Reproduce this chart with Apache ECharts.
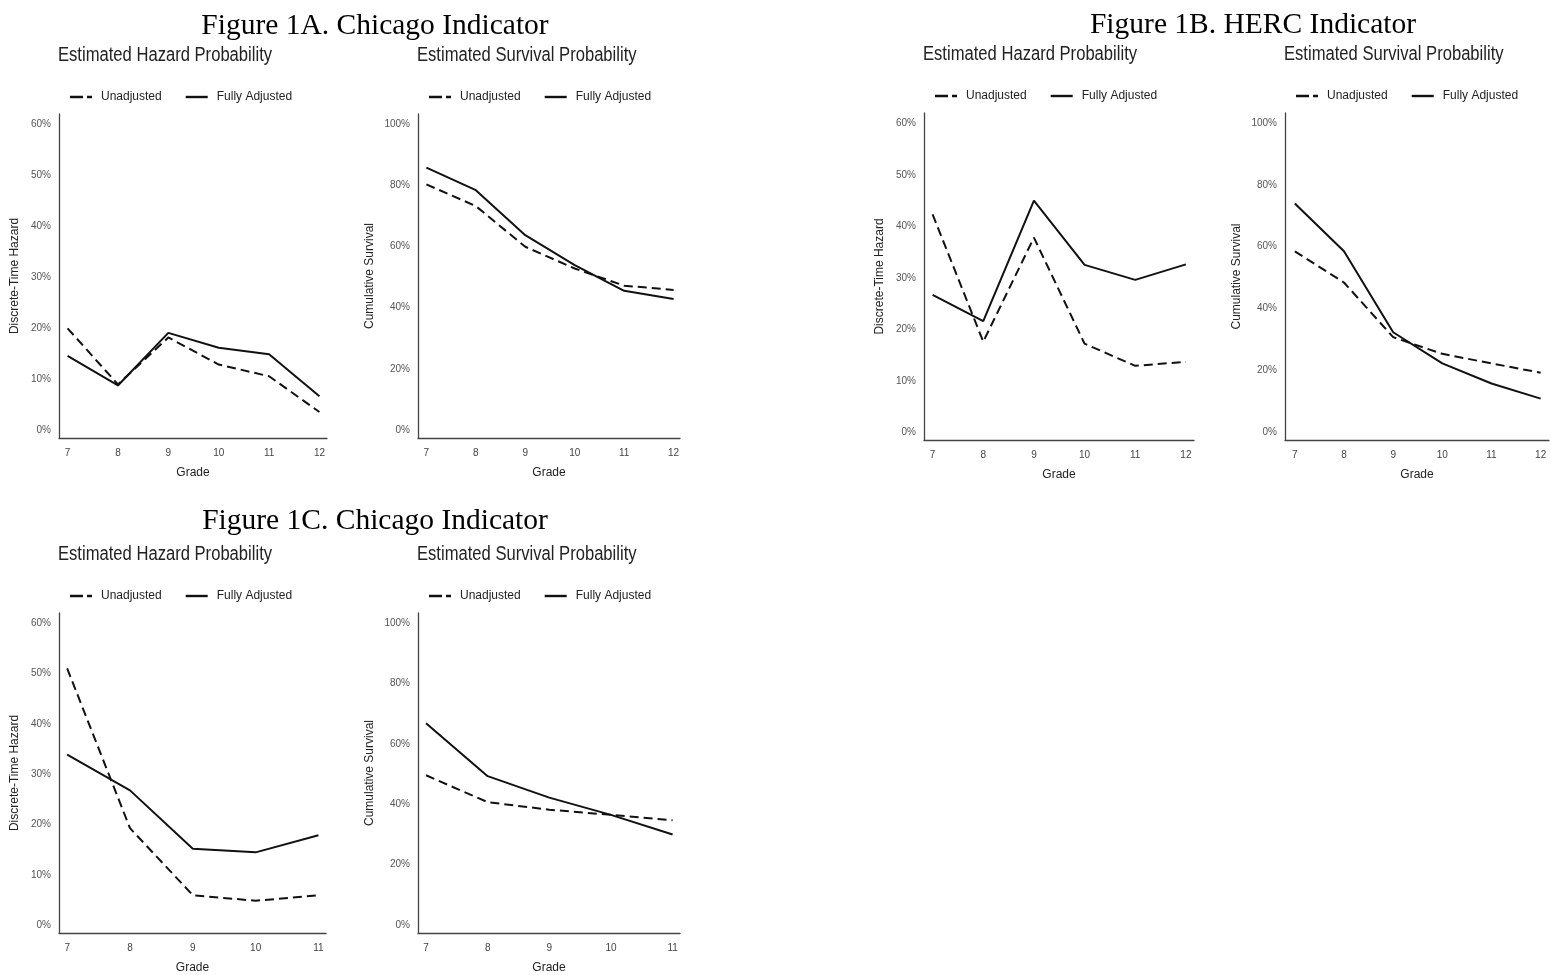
<!DOCTYPE html>
<html>
<head>
<meta charset="utf-8">
<script src="https://cdn.jsdelivr.net/npm/echarts@6/dist/echarts.min.js"></script>
<style>
html,body{margin:0;padding:0;background:#fff;}
#c{width:1551px;height:975px;}
</style>
</head>
<body>
<div id="c"></div>
<script>
// ---- data ----
var grades6 = [7, 8, 9, 10, 11, 12];
var grades5 = [7, 8, 9, 10, 11];
var seriesNames = ['Unadjusted', 'Fully Adjusted'];
var hazardTicks = [0, 0.1, 0.2, 0.3, 0.4, 0.5, 0.6];
var survivalTicks = [0, 0.2, 0.4, 0.6, 0.8, 1.0];

var hazA_unadj = [0.200, 0.090, 0.182, 0.129, 0.106, 0.036];
var hazA_full  = [0.146, 0.088, 0.191, 0.162, 0.149, 0.067];
var survA_unadj = [0.803, 0.732, 0.599, 0.528, 0.472, 0.458];
var survA_full  = [0.858, 0.784, 0.637, 0.539, 0.455, 0.428];

var hazB_unadj = [0.423, 0.176, 0.378, 0.172, 0.129, 0.137];
var hazB_full  = [0.267, 0.216, 0.450, 0.325, 0.296, 0.326];
var survB_unadj = [0.585, 0.484, 0.307, 0.253, 0.222, 0.192];
var survB_full  = [0.740, 0.585, 0.323, 0.222, 0.157, 0.108];

var hazC_unadj = [0.510, 0.193, 0.060, 0.049, 0.060];
var hazC_full  = [0.339, 0.268, 0.152, 0.145, 0.179];
var survC_unadj = [0.496, 0.407, 0.382, 0.365, 0.347];
var survC_full  = [0.668, 0.493, 0.422, 0.365, 0.300];

var figureTitles = ['Figure 1A. Chicago Indicator', 'Figure 1B. HERC Indicator', 'Figure 1C. Chicago Indicator'];
var panelTitles = ['Estimated Hazard Probability', 'Estimated Survival Probability'];
var hazardName = 'Discrete-Time Hazard';
var survivalName = 'Cumulative Survival';
var xName = 'Grade';

// ---- layout ----
var SANS = "'Liberation Sans Narrow','Arial Narrow','Liberation Sans',Arial,sans-serif";
var SERIF = "'Liberation Serif','Times New Roman',serif";
var DASH_ICON = 'path://M0,0H13V2.4H0Z M17,0H22V2.4H17Z';
var SOLID_ICON = 'path://M0,0H22V2.4H0Z';

var panels = [
  {left: 59,  top: 114, width: 268, height: 324, grades: grades6, xmin: 6.83, xmax: 12.15, kind: 'h', u: hazA_unadj, f: hazA_full, titleY: 55, legendY: 96},
  {left: 418, top: 114, width: 262, height: 324, grades: grades6, xmin: 6.83, xmax: 12.13, kind: 's', u: survA_unadj, f: survA_full, titleY: 55, legendY: 96},
  {left: 924, top: 113, width: 270, height: 327, grades: grades6, xmin: 6.83, xmax: 12.16, kind: 'h', u: hazB_unadj, f: hazB_full, titleY: 54, legendY: 95},
  {left: 1285, top: 113, width: 264, height: 327, grades: grades6, xmin: 6.80, xmax: 12.17, kind: 's', u: survB_unadj, f: survB_full, titleY: 54, legendY: 95},
  {left: 59,  top: 613, width: 267, height: 322, grades: grades5, xmin: 6.87, xmax: 11.12, kind: 'h', u: hazC_unadj, f: hazC_full, titleY: 554, legendY: 595},
  {left: 418, top: 613, width: 262, height: 323, grades: grades5, xmin: 6.87, xmax: 11.12, kind: 's', u: survC_unadj, f: survC_full, titleY: 554, legendY: 595}
];

var grids = [], xAxes = [], yAxes = [], series = [], legends = [], titles = [], graphics = [];

var figTitlePos = [[375, 11], [1253, 10], [375, 506]];
figureTitles.forEach(function (t, k) {
  titles.push({text: t, left: figTitlePos[k][0], top: figTitlePos[k][1], textAlign: 'center', padding: 0,
    textStyle: {fontFamily: SERIF, fontSize: 29.5, fontWeight: 'normal', color: '#000'}});
});

function pairs(xs, ys) { return xs.map(function (x, i) { return [x, ys[i]]; }); }

panels.forEach(function (p, i) {
  var isH = p.kind === 'h';
  grids.push({left: p.left, top: p.top, width: p.width, height: p.height, containLabel: false});
  xAxes.push({
    type: 'value', gridIndex: i, min: p.xmin, max: p.xmax,
    name: xName, nameLocation: 'middle', nameGap: 29,
    nameTextStyle: {fontFamily: SANS, fontSize: 12, color: '#222'},
    axisLine: {show: true, onZero: false, lineStyle: {color: '#444', width: 1.3}},
    axisTick: {show: false},
    splitLine: {show: false},
    axisLabel: {customValues: p.grades, fontFamily: SANS, fontSize: 10, color: '#444', margin: 10}
  });
  yAxes.push({
    type: 'value', gridIndex: i,
    min: isH ? -0.015 : -0.026, max: isH ? 0.62 : 1.033,
    name: isH ? hazardName : survivalName, nameLocation: 'middle', nameGap: isH ? 38 : 42, nameRotate: 90,
    nameTextStyle: {fontFamily: SANS, fontSize: 12, color: '#222'},
    axisLine: {show: true, onZero: false, lineStyle: {color: '#444', width: 1.3}},
    axisTick: {show: false},
    splitLine: {show: false},
    axisLabel: {customValues: isH ? hazardTicks : survivalTicks, fontFamily: SANS, fontSize: 10, color: '#555', margin: 8,
      formatter: function (v) { return Math.round(v * 100) + '%'; }}
  });
  series.push({
    name: seriesNames[0], type: 'line', xAxisIndex: i, yAxisIndex: i, symbol: 'none', silent: true,
    data: pairs(p.grades, p.u),
    lineStyle: {color: '#111', width: 2, type: [9, 5]}, itemStyle: {color: '#111'}
  });
  series.push({
    name: seriesNames[1], type: 'line', xAxisIndex: i, yAxisIndex: i, symbol: 'none', silent: true,
    data: pairs(p.grades, p.f),
    lineStyle: {color: '#111', width: 2, type: 'solid'}, itemStyle: {color: '#111'}
  });
  legends.push({
    data: [{name: seriesNames[0], icon: DASH_ICON}, {name: seriesNames[1], icon: SOLID_ICON}],
    left: p.left + 11, top: p.legendY - 6, orient: 'horizontal', padding: 0,
    itemWidth: 22, itemHeight: 2.4, itemGap: 24, selectedMode: false,
    itemStyle: {color: '#111', borderWidth: 0},
    lineStyle: {width: 0},
    textStyle: {fontFamily: SANS, fontSize: 12, color: '#222', padding: [0, 0, 0, 4], lineHeight: 14}
  });
  graphics.push({
    type: 'text', x: p.left - 1, y: p.titleY, scaleX: 0.83, silent: true,
    style: {text: panelTitles[isH ? 0 : 1], fontSize: 20, fontFamily: "'Liberation Sans',Arial,sans-serif",
      fill: '#222', verticalAlign: 'middle', align: 'left'}
  });
});

var chart = echarts.init(document.getElementById('c'), null, {renderer: 'canvas'});
chart.setOption({
  animation: false,
  backgroundColor: '#fff',
  title: titles,
  legend: legends,
  grid: grids,
  xAxis: xAxes,
  yAxis: yAxes,
  series: series,
  graphic: graphics
});
</script>
</body>
</html>
